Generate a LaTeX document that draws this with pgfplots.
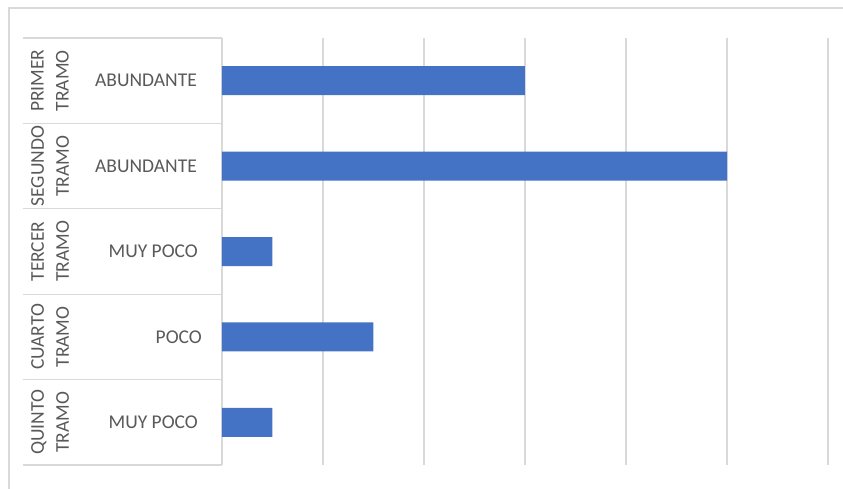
\documentclass[border=0pt]{standalone}
\usepackage{fontspec}
\setmainfont{Carlito}
\usepackage{pgfplots}
\pgfplotsset{compat=1.18}
\definecolor{barblue}{HTML}{4472C4}
\definecolor{gridgray}{HTML}{D9D9D9}
\definecolor{txtgray}{HTML}{595959}
\begin{document}
\begin{tikzpicture}
\useasboundingbox (-222bp,-24bp) rectangle (621bp,465bp);
\draw[gridgray, line width=1.5bp] (-213bp,-30bp) -- (-213bp,457bp) -- (630bp,457bp);
\begin{axis}[
  at={(0,0)}, anchor=south west,
  scale only axis, width=606bp, height=427bp,
  xmin=0, xmax=6, ymin=-0.5, ymax=4.5, y dir=reverse,
  xbar, bar width=29bp,
  xtick={0,1,2,3,4,5,6}, xticklabels={},
  xmajorgrids, grid style={gridgray, line width=1.2bp},
  ytick={-0.5,0.5,1.5,2.5,3.5,4.5}, yticklabels={},
  ytick pos=left, tick align=outside, major tick length=199bp,
  xtick style={draw=none},
  ytick style={gridgray, line width=1.2bp},
  separate axis lines,
  x axis line style={draw=none},
  y axis line style={gridgray, line width=1.2bp},
  clip=false,
  font=\fontsize{19.5bp}{25bp}\selectfont,
]
\addplot[draw=none, fill=barblue] coordinates {(3,0) (5,1) (0.5,2) (1.5,3) (0.5,4)};
\node[anchor=east, inner sep=0, txtgray] at ([xshift=-25bp]axis cs:0,0) {ABUNDANTE};
\node[anchor=east, inner sep=0, txtgray] at ([xshift=-25bp]axis cs:0,1) {ABUNDANTE};
\node[anchor=east, inner sep=0, txtgray] at ([xshift=-24bp]axis cs:0,2) {MUY POCO};
\node[anchor=east, inner sep=0, txtgray] at ([xshift=-20bp]axis cs:0,3) {POCO};
\node[anchor=east, inner sep=0, txtgray] at ([xshift=-24bp]axis cs:0,4) {MUY POCO};
\node[rotate=90, align=center, inner sep=0, txtgray] at ([xshift=-172bp]axis cs:0,0) {PRIMER\\TRAMO};
\node[rotate=90, align=center, inner sep=0, txtgray] at ([xshift=-172bp]axis cs:0,1) {SEGUNDO\\TRAMO};
\node[rotate=90, align=center, inner sep=0, txtgray] at ([xshift=-172bp]axis cs:0,2) {TERCER\\TRAMO};
\node[rotate=90, align=center, inner sep=0, txtgray] at ([xshift=-172bp]axis cs:0,3) {CUARTO\\TRAMO};
\node[rotate=90, align=center, inner sep=0, txtgray] at ([xshift=-172bp]axis cs:0,4) {QUINTO\\TRAMO};
\end{axis}
\end{tikzpicture}
\end{document}
